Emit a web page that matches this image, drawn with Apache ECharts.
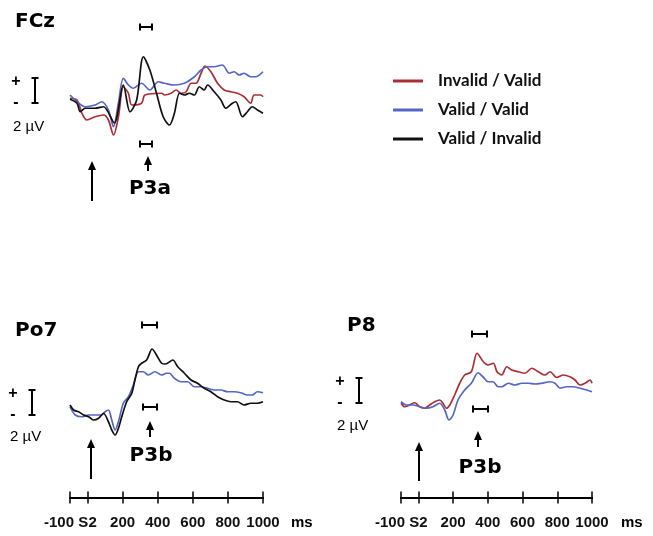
<!DOCTYPE html>
<html>
<head>
<meta charset="utf-8">
<script src="https://cdn.jsdelivr.net/npm/echarts@6/dist/echarts.min.js"></script>
<style>
  html, body { margin: 0; padding: 0; background: #fff; }
  #chart { width: 653px; height: 536px; }
</style>
</head>
<body>
<div id="chart"></div>
<script>
  var conditions = ['Invalid / Valid', 'Valid / Valid', 'Valid / Invalid']
  var colors = ['#ac2f36', '#5566c4', '#111111']
  var tickValues = [-100, 0, 200, 400, 600, 800, 1000]
  var tickLabels = ['-100', 'S2', '200', '400', '600', '800', '1000']

  // FCz (ms, µV)
  var fczRedT = [-100, -60, -32, -4, 43, 91, 119, 148, 176, 204, 233, 252, 308, 327, 422, 439, 477, 505, 533, 562, 590, 618, 647, 669, 703, 741, 779, 817, 854, 892, 930, 949, 987, 1000]
  var fczRedV = [0.14, 0, -1.06, -1.6, -1.34, -1.2, -1.6, -2.8, -1.34, 1.06, 0.54, -0.4, -0.26, 0.4, 0.54, 0.4, 0.54, 0.8, 0.54, 0.66, 1.34, 1.34, 2.14, 2.72, 2.26, 1.34, 0.8, 0.66, 0.54, 0.26, -0.26, 0.4, 0.4, 0.26]
  var fczBlueT = [-100, -70, -13, 43, 81, 119, 148, 176, 204, 233, 261, 308, 355, 403, 439, 495, 552, 609, 647, 684, 722, 769, 807, 836, 864, 892, 930, 958, 1000]
  var fczBlueV = [0.4, 0, -0.54, -0.4, -0.14, -0.8, -2.14, -0.26, 1.74, 1.2, 0.94, 1.34, 0.8, 1.46, 1.34, 1.2, 1.34, 1.86, 2.4, 2.66, 2.66, 2.8, 2.14, 2.26, 2.0, 2.14, 1.86, 1.86, 2.26]
  var fczBlackT = [-100, -60, -42, -13, 43, 91, 152, 204, 242, 280, 318, 355, 393, 431, 467, 495, 524, 552, 580, 609, 637, 665, 684, 722, 760, 788, 826, 845, 883, 911, 939, 968, 1000]
  var fczBlackV = [0.06, -0.26, -0.94, -0.66, -0.66, -0.54, -1.84, 1.2, -0.94, 0, 3.46, 2.4, 0.54, -1.34, -2.0, -1.06, 0.54, 0.4, 0.54, 0.4, 1.06, 0.8, 1.2, 0.66, 0, -0.66, -0.26, -0.14, -1.34, -0.94, -0.54, -0.8, -1.06]

  // Po7
  var po7BlueT = [-100, -70, -32, 6, 43, 81, 100, 119, 138, 157, 176, 204, 233, 261, 290, 318, 346, 384, 422, 450, 467, 495, 533, 571, 609, 647, 684, 722, 760, 798, 836, 873, 911, 939, 968, 1000]
  var po7BlueV = [0.26, -0.4, -0.54, -0.4, -0.4, -0.4, -0.14, 0, -0.8, -1.6, -0.94, 0.54, 1.06, 2.0, 3.06, 3.06, 2.8, 3.06, 2.8, 2.94, 2.94, 2.54, 2.26, 2.26, 1.86, 1.86, 1.74, 1.6, 1.6, 1.46, 1.46, 1.38, 1.2, 1.2, 1.46, 1.38]
  var po7BlackT = [-100, -79, -51, -22, 6, 34, 63, 91, 119, 138, 157, 176, 195, 223, 252, 270, 290, 308, 337, 368, 393, 422, 444, 486, 514, 552, 590, 627, 665, 703, 741, 779, 817, 854, 892, 930, 968, 1000]
  var po7BlackV = [0.4, 0, -0.14, -0.4, -0.54, -0.8, -0.66, -0.26, -0.94, -1.6, -2.0, -1.46, -0.54, 0.66, 1.34, 2.4, 3.46, 3.74, 4.0, 4.88, 4.4, 3.74, 3.68, 4.0, 3.46, 2.94, 2.4, 2.14, 1.74, 1.46, 1.06, 0.8, 0.66, 0.66, 0.4, 0.54, 0.54, 0.66]

  // P8
  var p8RedT = [-100, -79, -50, -21, 8, 37, 65, 94, 123, 142, 161, 181, 209, 238, 267, 305, 338, 374, 401, 432, 453, 480, 509, 538, 576, 614, 653, 691, 729, 758, 797, 835, 873, 902, 931, 960, 989, 1000]
  var p8RedV = [0.14, -0.14, 0, 0.18, -0.14, -0.26, 0, 0.26, 0.4, 0.14, -0.26, 0, 0.8, 1.74, 2.4, 2.66, 4.14, 3.46, 3.2, 3.34, 2.66, 2.4, 3.06, 2.8, 2.66, 2.54, 2.94, 2.66, 2.4, 2.66, 2.2, 2.4, 2.26, 2.0, 1.6, 1.74, 2.0, 1.74]
  var p8BlueT = [-100, -69, -31, 8, 46, 84, 123, 152, 176, 200, 228, 267, 305, 344, 372, 401, 430, 459, 480, 518, 557, 595, 633, 672, 710, 758, 787, 816, 854, 893, 931, 970, 1000]
  var p8BlueV = [0.26, 0, 0, -0.14, -0.26, -0.14, 0.14, -0.4, -1.2, -0.8, 0.4, 1.2, 1.74, 2.58, 2.26, 1.86, 1.86, 1.46, 1.46, 1.74, 1.6, 1.74, 1.74, 1.68, 1.74, 1.86, 1.74, 1.34, 1.46, 1.46, 1.34, 1.2, 1.06]

  function zip (t, v) {
    return t.map(function (x, i) { return [x, v[i]] })
  }

  function wave (name, grid, t, v) {
    var c = colors[conditions.indexOf(name)]
    return {
      name: name,
      type: 'line',
      xAxisIndex: grid === 0 ? 0 : grid * 2 - 1,
      yAxisIndex: grid,
      data: zip(t, v),
      showSymbol: false,
      smooth: 0.3,
      color: c,
      lineStyle: { color: c, width: 1.7 },
    }
  }

  function timeAxis (grid, withLabels, inside) {
    return {
      type: 'value',
      gridIndex: grid,
      position: 'bottom',
      min: -100,
      max: 1000,
      splitLine: { show: false },
      axisLine: { show: true, onZero: false, lineStyle: { color: '#000', width: 2 } },
      axisTick: { show: true, inside: inside, length: 6, customValues: tickValues, lineStyle: { color: '#000', width: 1.5 } },
      axisLabel: {
        show: withLabels,
        customValues: tickValues,
        showMinLabel: true,
        showMaxLabel: true,
        hideOverlap: false,
        margin: 18,
        color: '#111',
        fontFamily: 'Liberation Sans',
        fontWeight: 'bold',
        fontSize: 15,
        formatter: function (v) {
          var s = tickLabels[tickValues.indexOf(v)]
          return v === tickValues[0] ? '{m|' + s + '}' : s
        },
        rich: { m: { fontFamily: 'Liberation Sans', fontWeight: 'bold', fontSize: 15, color: '#111', padding: [0, 22, 0, 0] } },
      },
    }
  }

  // small drawing helpers for the annotations
  var ink = '#000'
  function txt (s, x, y, font, align) {
    return { type: 'text', style: { text: s, x: x, y: y, font: font, fill: ink, textAlign: align || 'left', textVerticalAlign: 'middle' } }
  }
  function seg (x1, y1, x2, y2, w) {
    return { type: 'line', shape: { x1: x1, y1: y1, x2: x2, y2: y2 }, style: { stroke: ink, lineWidth: w || 2 } }
  }
  function hbar (x1, x2, y) {
    return [seg(x1, y, x2, y), seg(x1, y - 3.5, x1, y + 3.5), seg(x2, y - 3.5, x2, y + 3.5)]
  }
  function vbar (x, y1, y2) {
    return [seg(x, y1, x, y2), seg(x - 3.5, y1, x + 3.5, y1), seg(x - 3.5, y2, x + 3.5, y2)]
  }
  function arrow (x, tip, bottom) {
    return [seg(x, tip + 6, x, bottom),
      { type: 'polygon', shape: { points: [[x - 4, tip + 9], [x + 4, tip + 9], [x, tip]] }, style: { fill: ink } }]
  }
  function scale (xs, xb, yTop, yBot, yLab) {
    return [txt('+', xs, yTop + 4, 'bold 16px Liberation Sans', 'center'),
      txt('-', xs, yBot, 'bold 16px Liberation Sans', 'center'),
      txt('2 µV', xs - 3, yLab, '15px Liberation Sans')].concat(vbar(xb, yTop, yBot))
  }

  var titleFont = 'bold 20px DejaVu Sans'
  var graphics = []
    // FCz
    .concat([txt('FCz', 15, 22, titleFont), txt('P3a', 150, 189, titleFont, 'center')])
    .concat(hbar(140, 152, 27), hbar(140, 152, 144), arrow(148, 156, 171), arrow(92, 161, 201))
    .concat(scale(16, 35, 78, 103, 127))
    // Po7
    .concat([txt('Po7', 15, 331, titleFont), txt('P3b', 151, 456, titleFont, 'center')])
    .concat(hbar(142, 157, 325), hbar(143, 157, 407), arrow(150, 421, 437), arrow(91, 439, 479))
    .concat(scale(13, 32, 390, 415, 437))
    // P8
    .concat([txt('P8', 347, 326, titleFont), txt('P3b', 480, 468, titleFont, 'center')])
    .concat(hbar(472, 487, 334), hbar(473, 488, 409), arrow(478, 431, 447), arrow(419, 442, 481))
    .concat(scale(340, 359, 378, 403, 426))
    // time unit
    .concat([txt('ms', 291, 523, 'bold 15px Liberation Sans'), txt('ms', 621, 523, 'bold 15px Liberation Sans')])

  var chart = echarts.init(document.getElementById('chart'))
  var option = {
    animation: false,
    backgroundColor: '#fff',
    grid: [
      { left: 70, width: 193, top: 50, height: 112.5, outerBoundsMode: 'none' },
      { left: 70, width: 193, top: 335, height: 162.5, outerBoundsMode: 'none' },
      { left: 401, width: 191, top: 342.5, height: 155, outerBoundsMode: 'none' },
    ],
    xAxis: [
      { type: 'value', gridIndex: 0, min: -100, max: 1000, show: false },
      timeAxis(1, true, false),
      timeAxis(1, false, true),
      timeAxis(2, true, false),
      timeAxis(2, false, true),
    ],
    yAxis: [
      { type: 'value', gridIndex: 0, min: -5, max: 4, show: false },
      { type: 'value', gridIndex: 1, min: -7, max: 6, show: false },
      { type: 'value', gridIndex: 2, min: -7.4, max: 5, show: false },
    ],
    legend: {
      orient: 'vertical',
      left: 388,
      top: 67,
      itemWidth: 30,
      itemHeight: 3,
      itemGap: 11,
      icon: 'rect',
      selectedMode: false,
      data: conditions,
      textStyle: { fontFamily: 'Lato', fontWeight: 'bold', fontSize: 17, lineHeight: 18, color: '#111', padding: [0, 0, 0, 10] },
    },
    series: [
      wave(conditions[0], 0, fczRedT, fczRedV),
      wave(conditions[1], 0, fczBlueT, fczBlueV),
      wave(conditions[2], 0, fczBlackT, fczBlackV),
      wave(conditions[1], 1, po7BlueT, po7BlueV),
      wave(conditions[2], 1, po7BlackT, po7BlackV),
      wave(conditions[0], 2, p8RedT, p8RedV),
      wave(conditions[1], 2, p8BlueT, p8BlueV),
    ],
    graphic: graphics,
  }
  chart.setOption(option)
</script>
</body>
</html>
